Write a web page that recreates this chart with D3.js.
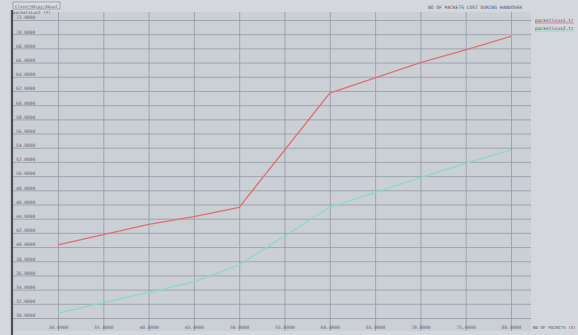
<!DOCTYPE html>
<html>
<head>
<meta charset="utf-8">
<script src="https://cdn.jsdelivr.net/npm/d3@7"></script>
<style>
  html, body { margin: 0; padding: 0; background: #d3d6db; }
  svg { display: block; }
  text { font-family: "DejaVu Sans Mono", monospace; }
</style>
</head>
<body>
<svg id="chart" width="578" height="335"></svg>
<script>
// Packets lost during handover, two trace files
const xValues = [30, 40, 45, 50, 60, 70, 75, 80];
const xTicks = [30, 35, 40, 45, 50, 55, 60, 65, 70, 75, 80];
const yTicks = d3.range(30, 72.01, 2);
const seriesNames = ["packetloss1.tr", "packetloss2.tr"];
const lossRed = [40.3, 43.2, 44.3, 45.6, 61.7, 66.0, 67.8, 69.7];
const lossGreen = [30.7, 33.6, 35.1, 37.5, 45.6, 49.8, 51.8, 53.7];
const colors = ["#e07075", "#8adcbc"];

const svg = d3.select("#chart");
const W = 578, H = 335;

const plot = { left: 12, right: 531, top: 12, bottom: 331 };
const x = d3.scaleLinear().domain([30, 80]).range([58, 511]);
const y = d3.scaleLinear().domain([30, 72]).range([318, 20]);

// background
svg.append("rect").attr("x", 0).attr("y", 0).attr("width", W).attr("height", H).attr("fill", "#d4d7dc");
svg.append("rect").attr("x", plot.left).attr("y", plot.top)
  .attr("width", plot.right - plot.left).attr("height", plot.bottom - plot.top)
  .attr("fill", "#cbcfd6");

// horizontal grid + labels
const yAxis = d3.axisRight(y).tickValues(yTicks)
  .tickSize(plot.right - plot.left)
  .tickFormat(d => d3.format(".4f")(d));
const gy = svg.append("g").attr("transform", `translate(${plot.left},0)`).call(yAxis);
gy.select(".domain").remove();
gy.selectAll(".tick line").attr("stroke", "#969ba4").attr("stroke-width", 0.8);
gy.selectAll(".tick text")
  .attr("x", 4).attr("dy", "-0.25em").attr("text-anchor", "start")
  .attr("fill", "#646a76").attr("font-size", 4.6);

// vertical grid + labels
const xAxis = d3.axisBottom(x).tickValues(xTicks)
  .tickSize(plot.bottom - plot.top)
  .tickFormat(d => d3.format(".4f")(d));
const gx = svg.append("g").attr("transform", `translate(0,${plot.top})`).call(xAxis);
gx.select(".domain").remove();
gx.selectAll(".tick line").attr("stroke", "#969ba4").attr("stroke-width", 0.8);
gx.selectAll(".tick text")
  .attr("y", plot.bottom - plot.top - 2).attr("dy", "0")
  .attr("fill", "#646a76").attr("font-size", 4.6);

// left axis bar
svg.append("line").attr("x1", plot.left).attr("x2", plot.left)
  .attr("y1", plot.top - 2).attr("y2", H)
  .attr("stroke", "#4a4f5a").attr("stroke-width", 2.2);

// series lines
const line = d3.line().x((d, i) => x(xValues[i])).y(d => y(d));
[lossRed, lossGreen].forEach((s, i) => {
  svg.append("path").datum(s).attr("d", line)
    .attr("fill", "none").attr("stroke", colors[i]).attr("stroke-width", 1.3);
});

// buttons and unit label
const btn = svg.append("g");
btn.append("rect").attr("x", 13).attr("y", 2).attr("width", 47).attr("height", 7)
  .attr("fill", "#d9dce0").attr("stroke", "#7d828b").attr("stroke-width", 0.6);
btn.append("text").attr("x", 15).attr("y", 7.5).attr("font-size", 4.2).attr("fill", "#5d6370")
  .text("Close|Hdcpy|About");
svg.append("text").attr("x", 13).attr("y", 14).attr("font-size", 4.2).attr("fill", "#5d6370")
  .text("packetsLost (Y)");

// title
svg.append("text").attr("x", 522).attr("y", 9).attr("text-anchor", "end")
  .attr("font-size", 4.6).attr("fill", "#4f5562")
  .text("NO OF PACKETS LOST DURING HANDOVER");

// legend
seriesNames.forEach((n, i) => {
  const yy = 22 + i * 8;
  svg.append("line").attr("x1", 535).attr("x2", 574).attr("y1", yy + 1).attr("y2", yy + 1)
    .attr("stroke", colors[i]).attr("stroke-width", 0.8);
  svg.append("text").attr("x", 535).attr("y", yy).attr("font-size", 4.6).attr("fill", "#4f5562")
    .text(n);
});

// x-axis name
svg.append("text").attr("x", 533).attr("y", 329).attr("font-size", 4.2).attr("fill", "#4f5562")
  .text("NO OF PACKETS (X)");
</script>
</body>
</html>
